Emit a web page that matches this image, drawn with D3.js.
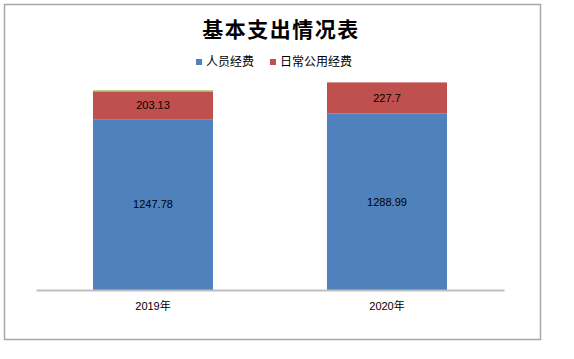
<!DOCTYPE html>
<html><head><meta charset="utf-8">
<script src="https://cdn.jsdelivr.net/npm/d3@7"></script>
<style>body{margin:0;background:#fff}svg{display:block}</style>
</head><body>
<svg id="c" width="574" height="359"></svg>
<script>
const categories = ["2019年", "2020年"];
const seriesNames = ["人员经费", "日常公用经费", "其他"];
const personnel = [1247.78, 1288.99];
const publicUse = [203.13, 227.7];
const other = [8, 0];
const colors = ["#4F81BD", "#C0504D", "#9BBB59"];
const legendNames = ["人员经费", "日常公用经费"];
const title = "基本支出情况表";

const svg = d3.select("#c");
const font = "'Liberation Sans', 'Noto Sans CJK SC', sans-serif";

svg.append("rect").attr("x", 4.5).attr("y", 4.5).attr("width", 536).attr("height", 335)
  .attr("fill", "#fff").attr("stroke", "#a6a6a6").attr("stroke-width", 1.5);

const x = d3.scaleBand().domain(categories).range([36, 504]).paddingInner(0.487).paddingOuter(0.2435);
const y = d3.scaleLinear().domain([0, 1600]).range([290, 71]);

const rows = categories.map((c, i) => ({cat: c, "人员经费": personnel[i], "日常公用经费": publicUse[i], "其他": other[i]}));
const stacked = d3.stack().keys(seriesNames)(rows);

const g = svg.append("g");
stacked.forEach((s, si) => {
  g.selectAll(null).data(s).enter().append("rect")
    .attr("x", d => x(d.data.cat))
    .attr("width", x.bandwidth())
    .attr("y", d => y(d[1]))
    .attr("height", d => y(d[0]) - y(d[1]))
    .attr("fill", colors[si]);
});

// value labels
stacked.slice(0, 2).forEach((s) => {
  g.selectAll(null).data(s).enter().append("text")
    .attr("x", d => x(d.data.cat) + x.bandwidth() / 2)
    .attr("y", d => (y(d[0]) + y(d[1])) / 2)
    .attr("dy", "0.35em")
    .attr("text-anchor", "middle")
    .attr("font-family", font).attr("font-size", 11).attr("fill", "#000")
    .text(d => d[1] - d[0] === 0 ? "" : String(+(d[1] - d[0]).toFixed(2)));
});

// axis
const ax = svg.append("g").attr("transform", "translate(0,290)")
  .call(d3.axisBottom(x).tickSize(0).tickPadding(12));
ax.select(".domain").attr("stroke", "#bfbfbf").attr("stroke-width", 2);
ax.selectAll("text").attr("font-family", font).attr("font-size", 11).attr("fill", "#000");

// title
svg.append("text").attr("x", 281).attr("y", 37).attr("text-anchor", "middle")
  .attr("font-family", "'Noto Sans CJK SC', sans-serif").attr("font-weight", "bold")
  .attr("font-size", 21).attr("letter-spacing", 1.5).attr("fill", "#000").text(title);

// legend
const legendX = [196, 270];
legendNames.forEach((n, i) => {
  svg.append("rect").attr("x", legendX[i]).attr("y", 59).attr("width", 6).attr("height", 6).attr("fill", colors[i]);
  svg.append("text").attr("x", legendX[i] + 10).attr("y", 62).attr("dy", "0.35em")
    .attr("font-family", "'Noto Sans CJK SC', sans-serif").attr("font-size", 12).attr("fill", "#000").text(n);
});
</script>
</body></html>
